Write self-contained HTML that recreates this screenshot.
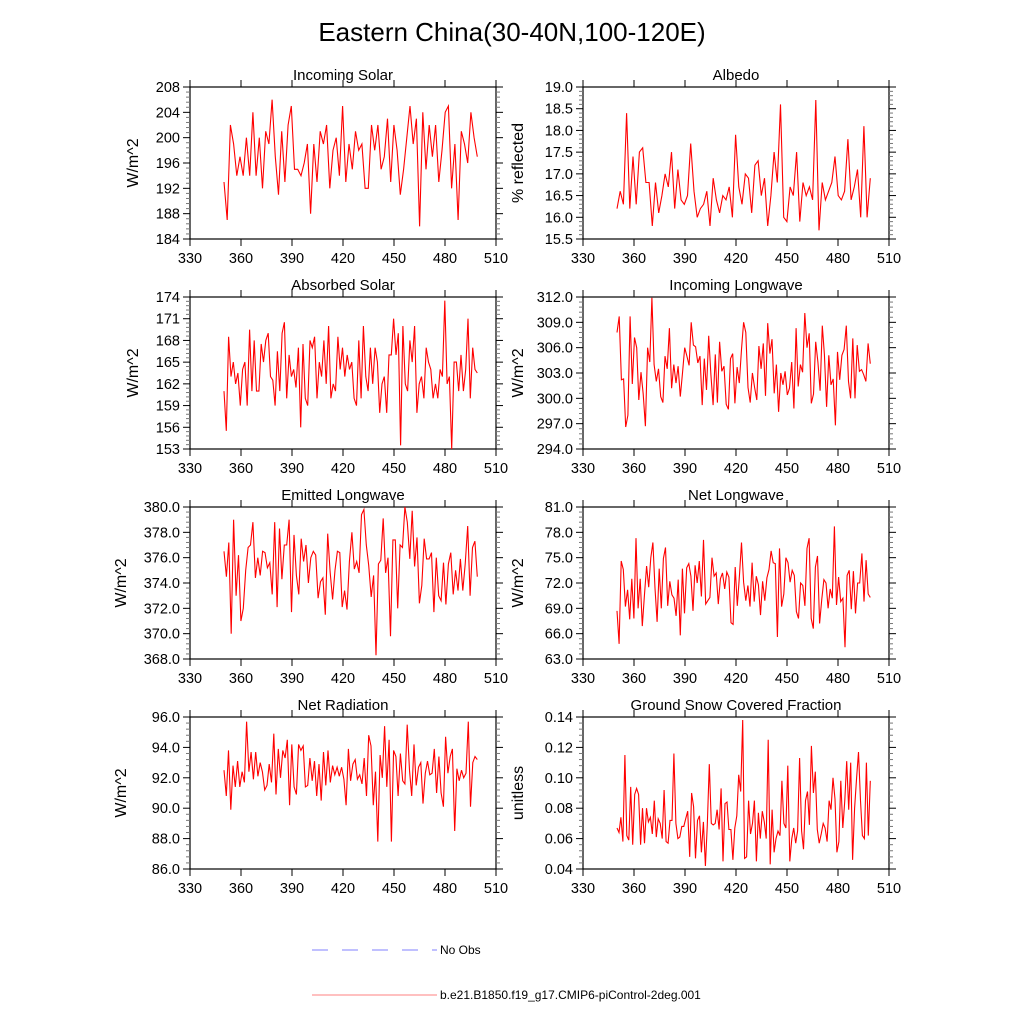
<!DOCTYPE html>
<html><head><meta charset="utf-8"><style>
body{margin:0;background:#fff;}
svg{display:block;font-family:"Liberation Sans",sans-serif;}
</style></head><body>
<svg id="chart" width="1024" height="1024" viewBox="0 0 1024 1024" xmlns="http://www.w3.org/2000/svg">
<text x="512" y="41" font-size="26" text-anchor="middle">Eastern China(30-40N,100-120E)</text>
<g id="panels"></g>
<g>
<line x1="312" y1="950" x2="437" y2="950" stroke="#8080ff" stroke-width="1" stroke-dasharray="16,14"/>
<text x="440" y="954" font-size="12">No Obs</text>
<line x1="312" y1="995" x2="437" y2="995" stroke="#ff8080" stroke-width="1"/>
<text x="440" y="999" font-size="12">b.e21.B1850.f19_g17.CMIP6-piControl-2deg.001</text>
</g>
</svg>
<script>
const xTicks=[330,360,390,420,450,480,510];
const incomingSolar=[193,187,202,199,194,197,194,200,194,204,194,200,192,201,199,206,197,191,201,193,202,205,195,195,194,196,199,188,199,193,201,199,202,192,198,200,194,205,193,199,195,201,198,199,192,192,202,198,202,195,197,203,193,202,198,191,195,200,205,199,203,186,204,195,202,197,202,193,198,204,205,192,199,187,201,199,196,204,200,197];
const albedo=[16.2,16.6,16.3,18.4,16.2,17.4,16.3,17.5,17.6,16.8,16.8,15.8,16.8,16.1,16.5,17.0,16.7,17.5,16.2,17.1,16.4,16.3,16.5,17.7,16.6,16.0,16.2,16.3,16.6,15.8,16.9,16.4,16.1,16.5,16.4,16.7,16.0,17.9,16.7,16.3,17.0,16.9,16.1,17.2,17.3,16.5,16.9,15.8,16.5,17.5,16.8,18.6,16.0,15.9,16.7,16.5,17.5,15.9,16.8,16.5,16.7,16.4,18.7,15.7,16.8,16.4,16.6,16.8,17.4,16.5,16.4,16.6,17.8,16.4,16.7,17.1,16.0,18.1,16.0,16.9];
const absorbedSolar=[161,155.5,168.5,163,165,162,163.5,159,164,165,159,169.5,161,168,161,161,167.5,165,168,169,163,162.5,159,166.5,161,169,170.5,160,166,163,164,161.5,167,156,167.5,160,159,168,167,168.5,160,165,163,168,162,170,160,162,161,168.5,164,167,163,166,164,165,160,159,168,160,170,163,161,167,162,167,165,158,162,163,158,166,166,171,166,169,153.5,170,162,161,168,165,170,158,162,163,160,167,165,164,160,162,160,164,163,173.5,162,163,153,165,165,161,166,161,164,171,160,167,164,163.5];
const incomingLW=[307.8,309.7,302.2,302.3,296.6,298,309.7,301.7,307.2,306,299.8,303.1,300.5,296.7,306,304.3,311.9,304,302,303.5,300.2,299.5,305,303.5,308.3,301.2,304,301.8,303.8,300.2,303,306,305,303.9,309,306.3,306.1,304.2,305,299.2,304.7,301,307.4,302.8,299.2,305.2,299.5,306.7,303.2,303.8,299.3,298.7,304.7,305.3,299.4,303.7,301.8,305.8,309,307.8,301.3,299.5,303,301.3,299.8,306.2,303.5,306.5,300.3,308.9,305.3,307,300.6,304,298.4,303,301.6,303.2,300.4,301.2,304.3,298.8,308.3,301.4,304,303.1,310.1,306,307.7,299.4,300.5,306.7,304.3,300.9,308.6,305.2,299,305.1,301.6,302.3,296.8,305.5,302.2,305.1,305.8,308.6,302,300,307.1,300,306.3,303.2,303.4,302.8,302,306.5,304.1];
const emittedLW=[376.5,374.5,377.2,370,379,373,376.2,371,372,375,376.8,377,378.8,374.4,376,374.6,376.5,376.4,375.2,375.6,373.1,378.8,372.1,378.3,374.3,377,377,379,371.7,377.8,374.6,373.1,377.5,375.7,377,374,376,376.5,376.2,372.8,374.1,374.4,371.5,377.9,374.9,372.7,375,376.5,376.4,372.1,373.4,371.9,375.7,378,375.1,375.7,374.8,379.4,379.8,377,375.4,372.9,374.6,368.3,375.5,375.8,379.1,374.8,376,369.8,377.4,377.4,372,377,376.8,380,378.8,375.9,379.7,375.3,377.6,372.4,373.8,377.5,375.9,375.9,376.4,371.7,376,373,372.6,375.6,372.3,375.5,376.4,373.1,375,373.4,375.9,373.4,375.5,378.5,373,376.8,377.3,374.5];
const netLW=[68.7,64.8,74.6,73.6,69.2,71.2,67.7,72.5,67.8,77.3,69,72.5,66.9,70.5,74,71.5,75,76.8,71.4,67.4,73.7,69,74.9,76.2,69.3,72.2,70.6,70.2,68.1,72.4,65.8,73.7,68.4,73.8,74.3,72.8,68.7,74.1,72,74.6,70.4,77.1,69.5,69.9,70.3,75,72.8,73.2,69.5,72.5,73.2,71.3,73.3,72.7,67.3,67.1,73.9,69.3,72.8,76.8,72.1,69.9,71.7,69.2,74.4,69.8,72.8,71.8,68.2,72.2,69.9,72.6,73.6,75.8,74.4,74.3,65.6,76.1,69.2,70.7,75,74.4,72.1,73.5,72.9,68.6,67.8,72,71.7,69.3,76.1,77.3,67.8,66.6,73.9,75.2,67.2,70.1,72.4,72,69,71.3,70.2,78.7,69.4,72.7,69.8,70.2,64.4,72.9,73.5,68.9,73.4,68.4,72,72,75.5,69.8,74.7,70.7,70.3];
const netRad=[92.5,90.8,93.8,89.9,92.8,91.4,93.1,91.4,92.4,91.7,95.7,92.4,93.7,91.9,93.7,92.1,93,92.4,91.2,91.5,92.9,91.7,94.9,90.9,93.9,92,93.8,93.3,94.5,90.2,94.2,91.4,90.9,94.2,93.8,94.1,91.4,91.5,93.3,91.8,93.1,90.8,92.9,90.5,93.7,91.5,93.8,91.7,92.8,92.2,92.7,92.1,92.7,91.9,90.2,93.9,91.8,92.9,93.2,91.9,92.2,91.6,93.3,90.8,94.8,94.1,90.2,92.4,87.8,93.5,92,95.4,91.4,94.5,87.8,93.8,93.4,90.8,93.6,91.8,91.6,95.5,92.5,90.8,94.2,91.5,92.7,93,90.3,92.3,93.1,92.2,92.3,93.9,91,93.4,91,90.1,94.7,92.3,93.4,93.9,88.5,92.6,91.8,92.5,92,92.3,95.7,90.1,93,93.4,93.2];
const snowFrac=[.067,.064,.074,.058,.115,.062,.059,.094,.056,.089,.093,.089,.056,.08,.057,.08,.071,.074,.063,.085,.061,.073,.07,.06,.092,.058,.057,.072,.072,.116,.07,.06,.061,.068,.068,.073,.078,.048,.09,.081,.047,.072,.075,.051,.071,.042,.069,.109,.07,.069,.07,.079,.066,.093,.045,.083,.084,.066,.066,.046,.067,.075,.102,.091,.138,.047,.048,.085,.063,.07,.085,.045,.077,.06,.078,.071,.06,.125,.043,.079,.051,.06,.065,.062,.098,.07,.067,.108,.045,.06,.067,.057,.065,.113,.065,.053,.085,.091,.069,.121,.09,.104,.066,.057,.063,.07,.067,.058,.085,.079,.1,.086,.051,.058,.098,.067,.085,.111,.079,.11,.046,.08,.1,.117,.085,.062,.06,.11,.062,.098];
const yearStart=350, yearEnd=499;

const panels=[
 {name:'incoming-solar',title:'Incoming Solar',ylab:'W/m^2',data:incomingSolar,min:184,max:208,step:4,dec:0,col:0,row:0},
 {name:'albedo',title:'Albedo',ylab:'% reflected',data:albedo,min:15.5,max:19,step:0.5,dec:1,col:1,row:0},
 {name:'absorbed-solar',title:'Absorbed Solar',ylab:'W/m^2',data:absorbedSolar,min:153,max:174,step:3,dec:0,col:0,row:1},
 {name:'incoming-longwave',title:'Incoming Longwave',ylab:'W/m^2',data:incomingLW,min:294,max:312,step:3,dec:1,col:1,row:1},
 {name:'emitted-longwave',title:'Emitted Longwave',ylab:'W/m^2',data:emittedLW,min:368,max:380,step:2,dec:1,col:0,row:2},
 {name:'net-longwave',title:'Net Longwave',ylab:'W/m^2',data:netLW,min:63,max:81,step:3,dec:1,col:1,row:2},
 {name:'net-radiation',title:'Net Radiation',ylab:'W/m^2',data:netRad,min:86,max:96,step:2,dec:1,col:0,row:3},
 {name:'snow-fraction',title:'Ground Snow Covered Fraction',ylab:'unitless',data:snowFrac,min:0.04,max:0.14,step:0.02,dec:2,col:1,row:3}
];
const NS='http://www.w3.org/2000/svg';
const root=document.getElementById('panels');
function mk(tag,attrs,parent){const e=document.createElementNS(NS,tag);for(const k in attrs)e.setAttribute(k,attrs[k]);parent.appendChild(e);return e;}
const lefts=[190,583], tops=[87,297,507,717], W=306, H=152;
panels.forEach(p=>{
 const g=mk('g',{},root);
 
 
 const L=lefts[p.col],T=tops[p.row],R=L+W,B=T+H;
 const xs=v=>L+(v-330)/180*W;
 const ys=v=>B-(v-p.min)/(p.max-p.min)*H;
 const t=mk('text',{x:L+W/2,y:T-7,'font-size':15,'text-anchor':'middle'},g);t.textContent=p.title;
 
 
 const box=mk('rect',{x:L,y:T,width:W,height:H,fill:'none',stroke:'#000','stroke-width':1.2},g);
 
 
 xTicks.forEach(v=>{
  const x=xs(v);
  mk('line',{x1:x,y1:B,x2:x,y2:B+7,stroke:'#000'},g);
  mk('line',{x1:x,y1:T,x2:x,y2:T-7,stroke:'#000'},g);
  const tl=mk('text',{x:x,y:B+24,'font-size':14.5,'text-anchor':'middle'},g);tl.textContent=v;
  
  
 });
 const n=Math.round((p.max-p.min)/p.step);
 for(let i=0;i<=n;i++){
  const v=p.min+i*p.step,y=ys(v);
  mk('line',{x1:L-7,y1:y,x2:L,y2:y,stroke:'#000'},g);
  mk('line',{x1:R,y1:y,x2:R+7,y2:y,stroke:'#000'},g);
  if(i<n){for(let k=1;k<5;k++){const ym=ys(v+p.step*k/5);
   mk('line',{x1:L-4,y1:ym,x2:L,y2:ym,stroke:'#777'},g);
   mk('line',{x1:R,y1:ym,x2:R+4,y2:ym,stroke:'#777'},g);}}
  const tl=mk('text',{x:L-10,y:y+5,'font-size':14.5,'text-anchor':'end'},g);tl.textContent=v.toFixed(p.dec);
  
  
 }
 const lx=L-(p.dec===0?52:(p.col===0?64:60));
 const yl=mk('text',{x:lx,y:T+H/2,'font-size':16,'text-anchor':'middle',transform:`rotate(-90 ${lx} ${T+H/2})`},g);
 yl.textContent=p.ylab;
 
 
 const N=p.data.length;
 const pts=p.data.map((v,i)=>xs(yearStart+i*(yearEnd-yearStart)/(N-1)).toFixed(1)+','+ys(v).toFixed(1)).join(' ');
 const line=mk('polyline',{points:pts,fill:'none',stroke:'#ff0000','stroke-width':1.1},g);
 
 
});
</script>
</body></html>
